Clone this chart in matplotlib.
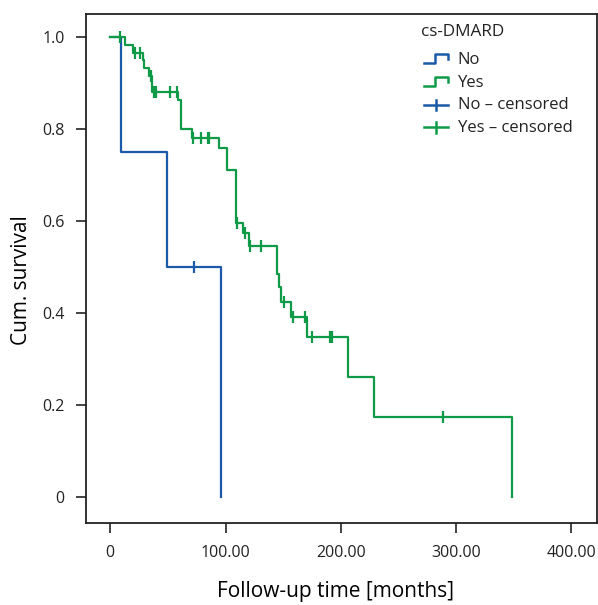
import numpy as np
import matplotlib
matplotlib.use("Agg")
import matplotlib.pyplot as plt
from matplotlib.legend_handler import HandlerBase
from matplotlib.lines import Line2D

plt.rcParams['font.family'] = ['Open Sans', 'DejaVu Sans']

# ---- data ----
no_times = [0, 9, 49, 96]
no_surv = [1.0, 0.75, 0.5, 0.0]
no_cens = [73]

yes_times = [0, 13, 19.5, 28, 29.5, 34, 36.5, 58.5, 61, 71, 94.5, 101, 109, 115,
             120.5, 145, 146, 148, 157, 171, 206, 228.5, 348.5]
yes_surv = [1.0, 0.983, 0.967, 0.950, 0.933, 0.916, 0.882, 0.863, 0.800, 0.782,
            0.759, 0.712, 0.597, 0.574, 0.546, 0.485, 0.456, 0.425, 0.392, 0.348,
            0.261, 0.174, 0.0]
yes_cens = [8.5, 21, 25.5, 35, 37.5, 39.5, 52, 58, 72, 79, 84.5, 86, 109.5, 116.5,
            121, 131, 151, 158.5, 168.5, 175, 190.5, 192.5, 289]

x_ticks = [0, 100, 200, 300, 400]
x_labels = ["0", "100.00", "200.00", "300.00", "400.00"]
y_ticks = [0, 0.2, 0.4, 0.6, 0.8, 1.0]
y_labels = ["0", "0.2", "0.4", "0.6", "0.8", "1.0"]

BLUE = "#1b5aa6"
GREEN = "#0f9a48"


def surv_at(times, surv, t):
    idx = np.searchsorted(times, t, side='right') - 1
    return np.asarray(surv)[idx]


fig = plt.figure(figsize=(5.98, 6.05), dpi=100)
ax = fig.add_axes([0.143, 0.136, 0.855, 0.841])

ax.step(no_times, no_surv, where='post', color=BLUE, lw=1.6, zorder=2)
ax.step(yes_times, yes_surv, where='post', color=GREEN, lw=1.6, zorder=3)
ax.plot(no_cens, surv_at(no_times, no_surv, no_cens), ls='none', marker='|',
        ms=9, mew=1.6, color=BLUE, zorder=4)
ax.plot(yes_cens, surv_at(yes_times, yes_surv, yes_cens), ls='none', marker='|',
        ms=8, mew=1.6, color=GREEN, zorder=5)

ax.set_xlim(-21.5, 422)
ax.set_ylim(-0.056, 1.051)
ax.set_xticks(x_ticks)
ax.set_xticklabels(x_labels)
ax.set_yticks(y_ticks)
ax.set_yticklabels(y_labels)
ax.tick_params(direction='out', length=7, width=1.2, labelsize=11.5,
               colors='#222222', pad=8)
ax.tick_params(axis='x', pad=9)
for s in ax.spines.values():
    s.set_linewidth(1.3)
    s.set_color('#222222')

ax.set_xlabel("Follow-up time [months]", fontsize=15, va='center')
ax.set_ylabel("Cum. survival", fontsize=15, va='center')
ax.xaxis.set_label_coords(0.489, -0.136)
ax.yaxis.set_label_coords(-0.125, 0.477)


class StepHandler(HandlerBase):
    def create_artists(self, legend, orig_handle, xdescent, ydescent, width,
                       height, fontsize, trans):
        xs = np.array([0.1, 0.45, 0.45, 0.88, 0.88]) * width - xdescent
        ys = np.array([0.1, 0.1, 0.85, 0.85, 0.4]) * height - ydescent
        ln = Line2D(xs, ys, color=orig_handle.get_color(), lw=1.8)
        ln.set_transform(trans)
        return [ln]


class CrossHandler(HandlerBase):
    def create_artists(self, legend, orig_handle, xdescent, ydescent, width,
                       height, fontsize, trans):
        c = orig_handle.get_color()
        y0 = 0.4 * height - ydescent
        h = Line2D([0.1 * width - xdescent, 0.88 * width - xdescent], [y0, y0],
                   color=c, lw=1.8)
        v = Line2D([0.49 * width - xdescent] * 2,
                   [y0 - 0.45 * height, y0 + 0.45 * height], color=c, lw=1.8)
        h.set_transform(trans)
        v.set_transform(trans)
        return [h, v]


h_no = Line2D([], [], color=BLUE)
h_yes = Line2D([], [], color=GREEN)
c_no = Line2D([], [], color=BLUE)
c_yes = Line2D([], [], color=GREEN)
leg = ax.legend([h_no, h_yes, c_no, c_yes],
                ["No", "Yes", "No \u2013 censored", "Yes \u2013 censored"],
                handler_map={h_no: StepHandler(), h_yes: StepHandler(),
                             c_no: CrossHandler(), c_yes: CrossHandler()},
                title="cs-DMARD", loc='upper left', bbox_to_anchor=(0.637, 1.0),
                frameon=False, fontsize=12, title_fontsize=12.3,
                handlelength=1.8, handletextpad=0.4, labelspacing=0.4,
                borderaxespad=0.2)
leg._legend_box.align = "left"
leg._legend_box.sep = 8.8
for t in leg.get_texts():
    t.set_color('#222222')
leg.get_title().set_color('#222222')

fig.savefig("out.png", dpi=100)
